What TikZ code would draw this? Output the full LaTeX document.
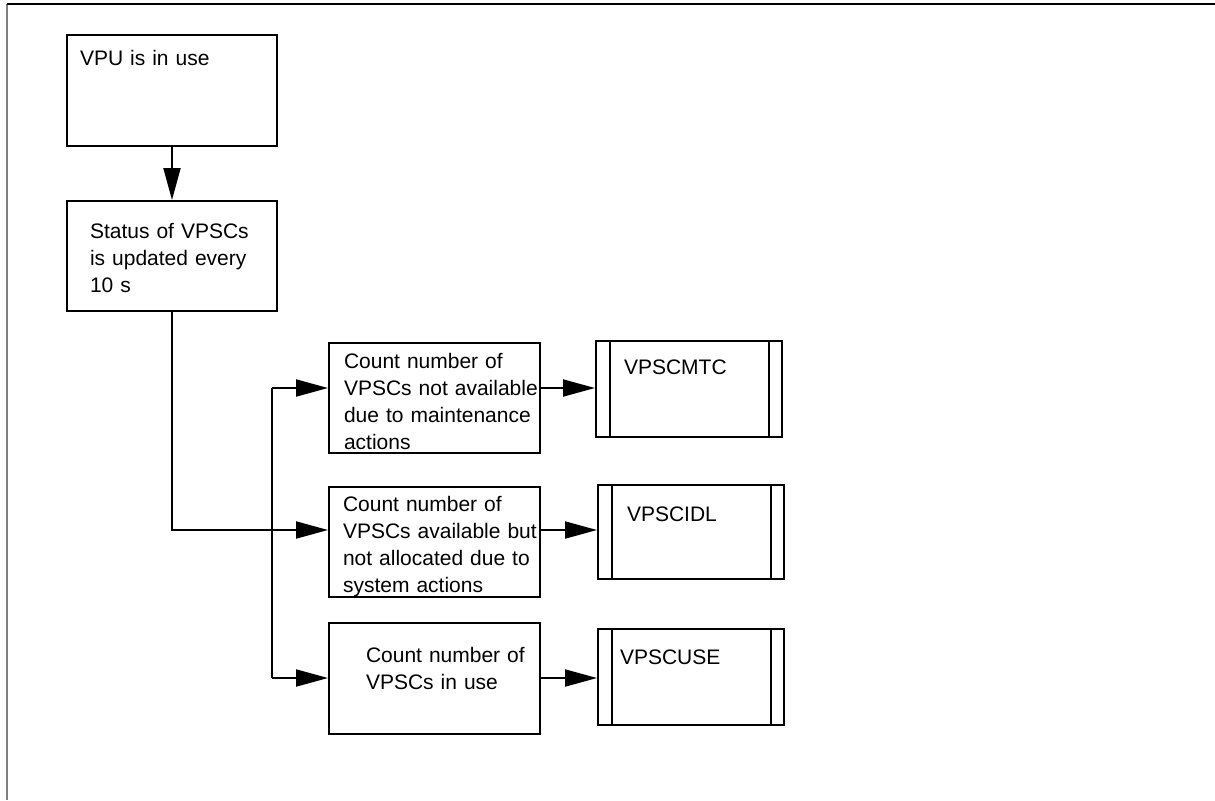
\documentclass[tikz,border=0pt]{standalone}
\usepackage{fontspec}
\setmainfont{Liberation Sans}
\usetikzlibrary{arrows.meta}
\tikzset{
  % process box, text hung from the top-left corner
  box/.style={draw, line width=1pt, anchor=north west, inner xsep=0pt, inner ysep=0pt,
    align=left, font=\fontsize{10.5}{13.5}\selectfont},
  textindent/.style={execute at begin node={\leftskip=#1}},
  % register box with the two inner bars
  register/.style={box, path picture={
    \draw[line width=1pt] ([xshift=7pt]path picture bounding box.north west)
      -- ([xshift=7pt]path picture bounding box.south west);
    \draw[line width=1pt] ([xshift=-6.5pt]path picture bounding box.north east)
      -- ([xshift=-6.5pt]path picture bounding box.south east);}},
  wire/.style={line width=1pt},
  flow/.style={wire, -{Triangle[length=16pt,width=8.5pt]}}
}
\begin{document}
\begin{tikzpicture}[x=0.5pt, y=-0.5pt]

\useasboundingbox (0,0) rectangle (1215,800);

% Frame
\draw[gray, line width=0.7pt] (7,4) -- (7,800);
\draw[line width=0.6pt] (7,4) -- (1215,4);

% Boxes
\node[box, textindent=6.5pt, text width=105pt, text height=15pt, text depth=40.5pt]
  (vpu) at (66,34) {VPU is in use};
\node[box, textindent=11.5pt, text width=105pt, text height=18.5pt, text depth=36.5pt]
  (status) at (66,200) {Status of VPSCs\\is updated every\\10 s};
\node[box, textindent=7.5pt, text width=105.5pt, text height=12.5pt, text depth=42.5pt]
  (maint) at (328,342) {Count number of\\VPSCs not available\\due to maintenance\\actions};
\node[box, textindent=7pt, text width=105.5pt, text height=12pt, text depth=43pt]
  (idle) at (328,486) {Count number of\\VPSCs available but\\not allocated due to\\system actions};
\node[box, textindent=18.5pt, text width=105.5pt, text height=19.5pt, text depth=36pt]
  (inuse) at (328,622) {Count number of\\VPSCs in use};

% Registers
\node[register, textindent=14pt, text width=93pt, text height=16.5pt, text depth=31.5pt]
  (mtc) at (595,340) {VPSCMTC};
\node[register, textindent=14.5pt, text width=93pt, text height=18pt, text depth=29pt]
  (idl) at (597,484) {VPSCIDL};
\node[register, textindent=11pt, text width=93pt, text height=17.5pt, text depth=30.5pt]
  (use) at (597,628) {VPSCUSE};

% Bus
\coordinate (busTop) at (272,388);
\coordinate (busMid) at (272,530);
\coordinate (busBot) at (272,678);

% Connectors
\draw[flow] (vpu) -- (status);
\draw[flow] (status.south) |- (busMid -| idle.west);
\draw[wire] (busTop) -- (busBot);
\draw[flow] (busTop) -- (busTop -| maint.west);
\draw[flow] (busBot) -- (busBot -| inuse.west);
\draw[flow] (maint.east |- busTop) -- (mtc.west |- busTop);
\draw[flow] (idle.east |- busMid) -- (idl.west |- busMid);
\draw[flow] (inuse.east |- busBot) -- (use.west |- busBot);

\end{tikzpicture}
\end{document}
